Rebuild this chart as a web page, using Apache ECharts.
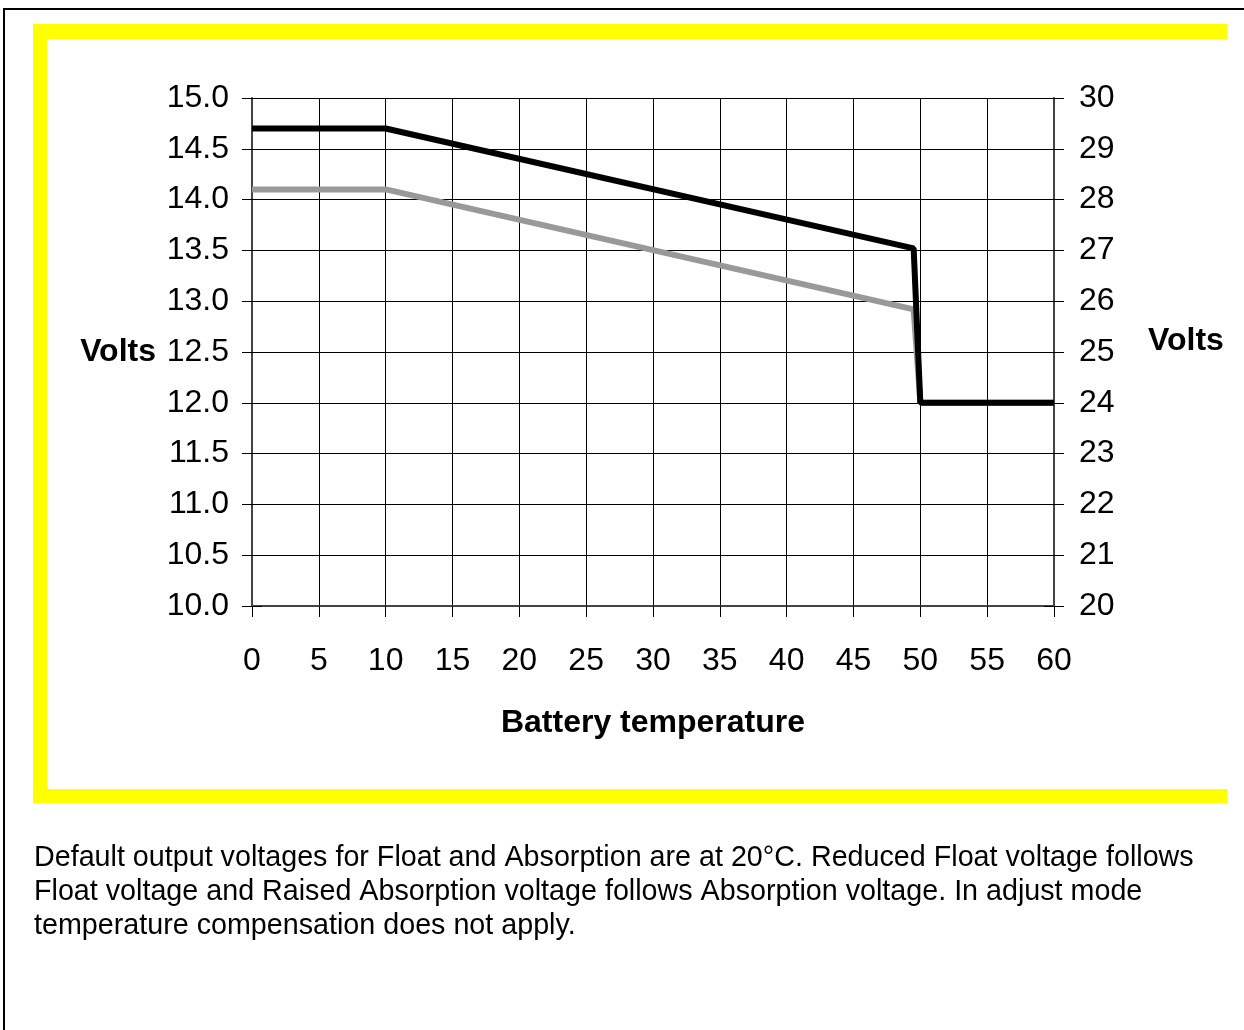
<!DOCTYPE html>
<html>
<head>
<meta charset="utf-8">
<script src="https://cdn.jsdelivr.net/npm/echarts@6/dist/echarts.min.js"></script>
<style>
html,body{margin:0;padding:0;background:#fff;}
#chart{width:1244px;height:1030px;}
</style>
</head>
<body>
<div id="chart"></div>
<script>
// Data
var temperatures = [0, 10, 49.5, 50, 60];
var absorptionVolts = [14.7, 14.7, 13.52, 12.0, 12.0];
var floatVolts = [14.1, 14.1, 12.92, 12.0, 12.0];
var xTitle = 'Battery temperature';
var yTitle = 'Volts';
var footnoteLines = [
  'Default output voltages for Float and Absorption are at 20°C. Reduced Float voltage follows',
  'Float voltage and Raised Absorption voltage follows Absorption voltage. In adjust mode',
  'temperature compensation does not apply.'
];

function pairs(xs, ys) { return xs.map(function (x, i) { return [x, ys[i]]; }); }

var FONT = '"Liberation Sans", Arial, sans-serif';
var chart = echarts.init(document.getElementById('chart'), null, {renderer: 'canvas'});

var option = {
  animation: false,
  backgroundColor: '#ffffff',
  grid: {left: 252, right: 190, top: 98, bottom: 424, containLabel: false},
  xAxis: [{
    type: 'value', min: 0, max: 60, interval: 5,
    axisLine: {show: true, lineStyle: {color: '#444', width: 2}},
    axisTick: {show: true, length: 11, lineStyle: {color: '#000', width: 1}},
    axisLabel: {fontFamily: FONT, fontSize: 32, color: '#000', margin: 39},
    splitLine: {show: true, lineStyle: {color: '#000', width: 1}}
  }],
  yAxis: [{
    type: 'value', position: 'left', min: 10, max: 15, interval: 0.5,
    axisLine: {show: true, lineStyle: {color: '#444', width: 2}},
    axisTick: {show: true, length: 10, lineStyle: {color: '#000', width: 1}},
    axisLabel: {fontFamily: FONT, fontSize: 32, color: '#000', margin: 23, padding: [4, 0, 0, 0],
      formatter: function (v) { return v.toFixed(1); }},
    splitLine: {show: true, lineStyle: {color: '#000', width: 1}}
  }, {
    type: 'value', position: 'right', min: 20, max: 30, interval: 1,
    axisLine: {show: true, lineStyle: {color: '#444', width: 2}},
    axisTick: {show: true, length: 10, lineStyle: {color: '#000', width: 1}},
    axisLabel: {fontFamily: FONT, fontSize: 32, color: '#000', margin: 25, padding: [4, 0, 0, 0]},
    splitLine: {show: false}
  }, {
    type: 'value', position: 'left', min: 10, max: 15, interval: 0.5,
    axisLine: {show: false},
    axisTick: {show: true, inside: true, length: 10, lineStyle: {color: '#000', width: 1}},
    axisLabel: {show: false}, splitLine: {show: false}
  }, {
    type: 'value', position: 'right', min: 20, max: 30, interval: 1,
    axisLine: {show: false},
    axisTick: {show: true, inside: true, length: 10, lineStyle: {color: '#000', width: 1}},
    axisLabel: {show: false}, splitLine: {show: false}
  }],
  series: [{
    name: 'Float', type: 'line', yAxisIndex: 0,
    data: pairs(temperatures, floatVolts),
    showSymbol: false, symbol: 'none',
    lineStyle: {color: '#999999', width: 6}, z: 3
  }, {
    name: 'Absorption', type: 'line', yAxisIndex: 0,
    data: pairs(temperatures, absorptionVolts),
    showSymbol: false, symbol: 'none',
    lineStyle: {color: '#000000', width: 6}, z: 4
  }],
  graphic: [
    {type: 'rect', shape: {x: 4, y: 9, width: 1300, height: 1100}, style: {fill: 'none', stroke: '#000', lineWidth: 2}, z: 0},
    {type: 'rect', shape: {x: 33, y: 24, width: 14, height: 779}, style: {fill: '#ffff00'}, z: 1},
    {type: 'rect', shape: {x: 33, y: 24, width: 1194, height: 15}, style: {fill: '#ffff00'}, z: 1},
    {type: 'rect', shape: {x: 33, y: 789, width: 1194, height: 14}, style: {fill: '#ffff00'}, z: 1},
    {type: 'text', x: 156, y: 352, style: {text: yTitle, font: 'bold 32px ' + FONT, fill: '#000', textAlign: 'right', textVerticalAlign: 'middle'}, z: 10},
    {type: 'text', x: 1148, y: 341, style: {text: yTitle, font: 'bold 32px ' + FONT, fill: '#000', textAlign: 'left', textVerticalAlign: 'middle'}, z: 10},
    {type: 'text', x: 653, y: 723, style: {text: xTitle, font: 'bold 32px ' + FONT, fill: '#000', textAlign: 'center', textVerticalAlign: 'middle'}, z: 10},
    {type: 'text', x: 34, y: 841, style: {text: footnoteLines.join('\n'), font: '28.7px ' + FONT, lineHeight: 34, fill: '#000', textAlign: 'left', textVerticalAlign: 'top'}, z: 10}
  ]
};
chart.setOption(option);
</script>
</body>
</html>
